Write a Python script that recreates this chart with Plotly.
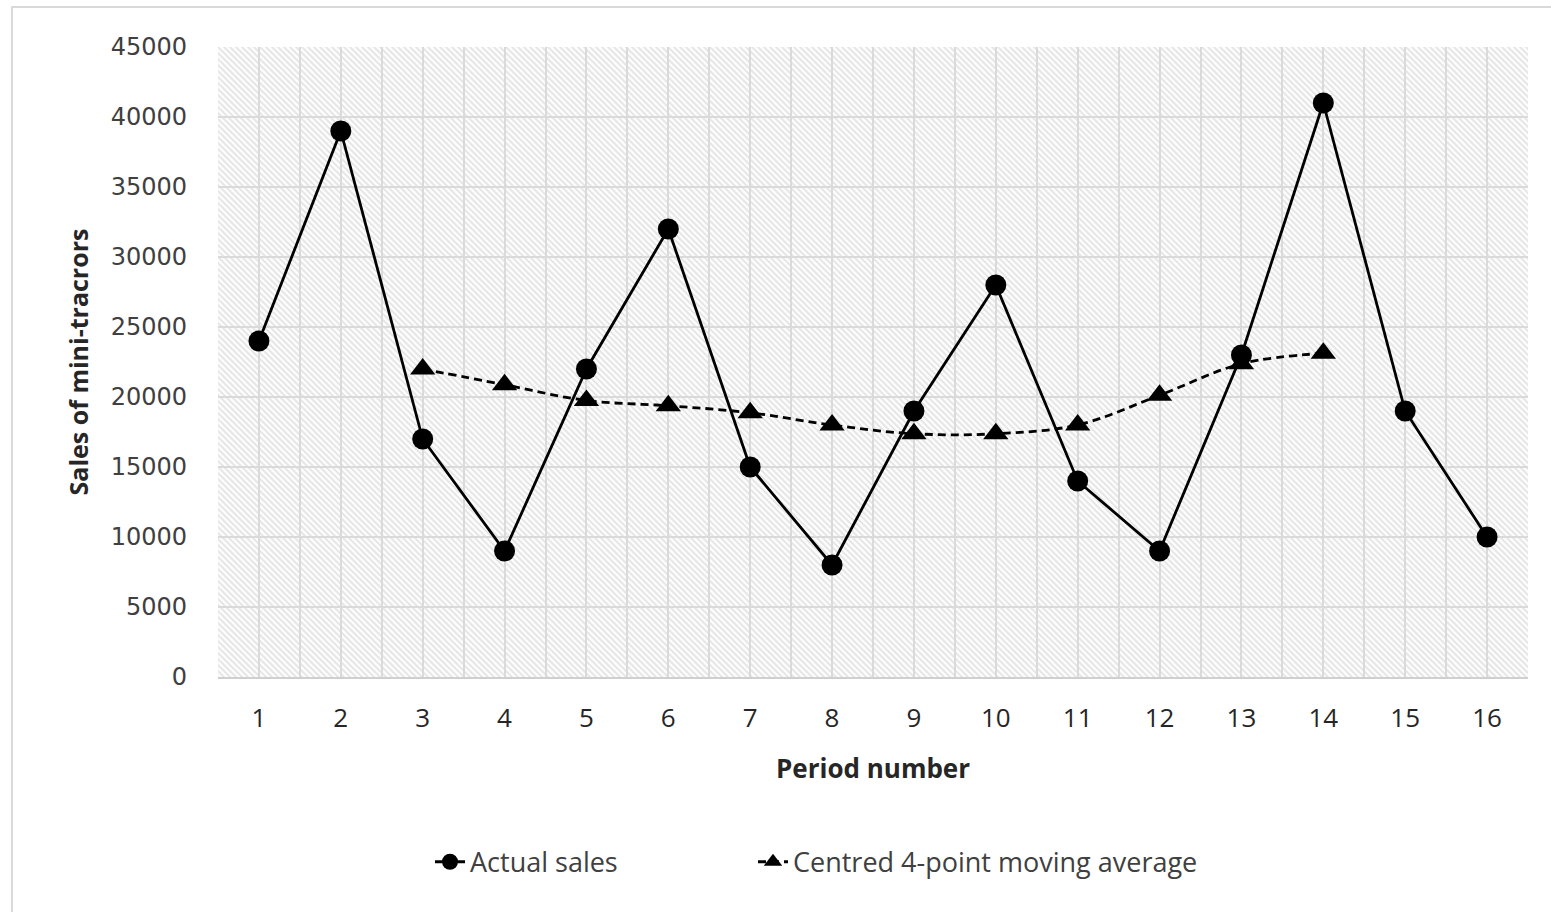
import base64
import plotly.graph_objects as go

periods = list(range(1, 17))
actual_sales = [24000, 39000, 17000, 9000, 22000, 32000, 15000, 8000,
                19000, 28000, 14000, 9000, 23000, 41000, 19000, 10000]
ma_periods = list(range(3, 15))
moving_avg = [22000, 20875, 19750, 19375, 18875, 18000,
              17375, 17375, 18000, 20125, 22375, 23125]

x_title = "Period number"
y_title = "Sales of mini-tracrors"
name_actual = "Actual sales"
name_ma = "Centred 4-point moving average"

# hatched background pattern (style only)
svg = (
    '<svg xmlns="http://www.w3.org/2000/svg" width="1310" height="630" '
    'preserveAspectRatio="none">'
    '<defs><pattern id="h" patternUnits="userSpaceOnUse" width="6" height="6">'
    '<rect width="6" height="6" fill="#fcfcfc"/>'
    '<path d="M-1,-1 L7,7 M-1,5 L1,7 M5,-1 L7,1" stroke="#e4e4e4" stroke-width="1.6"/>'
    '</pattern></defs><rect width="1310" height="630" fill="url(#h)"/></svg>'
)
svg_uri = "data:image/svg+xml;base64," + base64.b64encode(svg.encode()).decode()

font_family = "Open Sans, Liberation Sans, sans-serif"
grid_col = "#dadada"

fig = go.Figure()
fig.add_trace(go.Scatter(
    x=periods, y=actual_sales, name=name_actual, mode="lines+markers",
    line=dict(color="black", width=2.8),
    marker=dict(symbol="circle", size=21, color="black"),
    legend="legend",
))
fig.add_trace(go.Scatter(
    x=ma_periods, y=moving_avg, name=name_ma, mode="lines+markers",
    line=dict(color="black", width=2.8, dash="8px,5px", shape="spline"),
    marker=dict(symbol="triangle-up", size=22, color="black"),
    legend="legend2",
))

legend_font = dict(size=27, color="#404040")
fig.update_layout(
    width=1551, height=912,
    margin=dict(l=218, r=23, t=47, b=235),
    paper_bgcolor="white",
    plot_bgcolor="rgba(0,0,0,0)",
    font=dict(family=font_family, color="#404040", size=23),
    showlegend=True,
    legend=dict(orientation="h", x=(430 - 218) / 1310, y=-0.294, xanchor="left",
                yanchor="middle", font=legend_font, bgcolor="rgba(0,0,0,0)"),
    legend2=dict(orientation="h", x=(753 - 218) / 1310, y=-0.294, xanchor="left",
                 yanchor="middle", font=legend_font, bgcolor="rgba(0,0,0,0)"),
    images=[dict(source=svg_uri, xref="paper", yref="paper", x=0, y=1,
                 sizex=1, sizey=1, sizing="stretch", layer="below",
                 xanchor="left", yanchor="top")],
    shapes=[dict(type="rect", xref="paper", yref="paper",
                 x0=-0.1573, x1=1.1, y0=-0.4, y1=1.0635,
                 line=dict(color="#d9d9d9", width=2), fillcolor="rgba(0,0,0,0)",
                 layer="below")],
)

fig.update_xaxes(
    range=[0.5, 16.5], tickmode="array", tickvals=periods,
    ticktext=[str(p) for p in periods],
    showgrid=True, gridcolor=grid_col, gridwidth=2,
    minor=dict(dtick=0.5, tick0=0.5, showgrid=True, gridcolor=grid_col, gridwidth=2),
    showline=True, linecolor="#cfcfcf", linewidth=2,
    zeroline=False, ticks="", ticklabelstandoff=17,
    tickfont=dict(size=26, color="#262626"),
    title=dict(text="<b>" + x_title + "</b>", standoff=26,
               font=dict(size=26, color="#262626")),
)
fig.update_yaxes(
    range=[0, 45000], dtick=5000, tickformat="d",
    showgrid=True, gridcolor=grid_col, gridwidth=2,
    zeroline=False, showline=False, ticks="", ticklabelstandoff=30,
    tickfont=dict(size=24, color="#404040", family="DejaVu Sans, Verdana, sans-serif"),
    title=dict(text="<b>" + y_title + "</b>", standoff=14,
               font=dict(size=25, color="#262626")),
)

fig.write_html("out.html")
